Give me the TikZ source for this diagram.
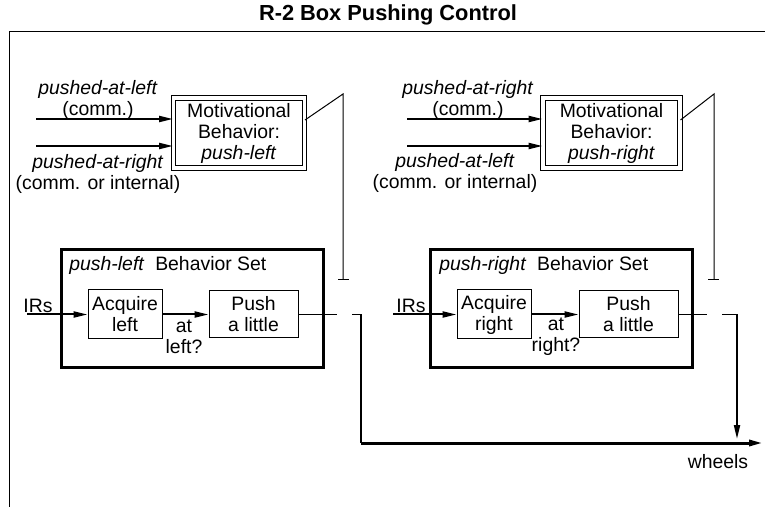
\documentclass[tikz,border=0pt]{standalone}
\usepackage{fontspec}
\setmainfont{Liberation Sans}
\usetikzlibrary{arrows.meta}

\begin{document}
\begin{tikzpicture}[x=0.5pt, y=-0.5pt,
        txt/.style={font=\fontsize{9.7}{10.5}\selectfont, align=center, inner sep=0pt},
        motbox/.style={txt, draw, double, line width=0.5pt, double distance=1.75pt, minimum height=35pt},
        setbox/.style={draw, line width=1.5pt, minimum width=131pt, minimum height=59pt},
        behbox/.style={txt, draw, line width=0.5pt},
        arr/.style={-{Triangle[length=7pt,width=3pt]}, line width=1pt}]
        \useasboundingbox (0,0) rectangle (765,507);

        % frame and title
        \node[font=\fontsize{10.9}{12}\selectfont\bfseries, inner sep=0pt] (title) at (388,15) {R-2 Box Pushing Control};
        \draw[line width=0.5pt] (9,507) -- (9,32) -- (765,32);

        % left half: push-left
        \node[motbox, minimum width=65.5pt] (motL) at (239,133) {Motivational\\Behavior:\\\textit{push-left}};
        \node[setbox] (setL) at (192,309) {};
        \node[txt, anchor=west] (setLlbl) at (69,265) {\textit{push-left}\ \ Behavior Set};
        \node[behbox, minimum width=37pt, minimum height=24.5pt] (acqL) at (125,314.5) {Acquire\\left};
        \node[behbox, minimum width=44.5pt, minimum height=23.5pt] (pushL) at (253.5,314.5) {Push\\a little};
        \node[txt] (irL) at (38,306) {IRs};
        \node[txt] (atL) at (184,337) {at\\left?};
        \node[txt] (inLalbl) at (98,100) {\textit{pushed-at-left}\\(comm.)};
        \node[txt] (inLblbl) at (98,174) {\textit{pushed-at-right}\\(comm. or internal)};

        \coordinate (inLa) at (36,119);
        \coordinate (inLb) at (36,146);
        \coordinate (irLin) at (27,314.5);
        \coordinate (swLtop) at (343,94);
        \coordinate (swLend) at (343,280);
        \coordinate (gapLa) at (337,314.5);
        \coordinate (gapLb) at (352,314.5);
        \coordinate (busL) at (361,443);

        \draw[arr] (inLa) -- (inLa -| motL.west);
        \draw[arr] (inLb) -- (inLb -| motL.west);
        \draw[line width=0.5pt] ([yshift=6.5pt]motL.east) -- (swLtop) -- (swLend);
        \draw[line width=0.5pt] ([xshift=-2.5pt]swLend) -- ([xshift=3pt]swLend);
        \draw[arr] (irLin) -- (acqL.west);
        \draw[arr] (acqL) -- (pushL);
        \draw[line width=0.5pt] (pushL.east) -- (gapLa);
        \draw[line width=0.5pt] (gapLb) -- (gapLb -| busL);
        \draw[line width=0.75pt] (gapLb -| busL) -- (busL);

        % right half: push-right
        \node[motbox, minimum width=68.5pt] (motR) at (611.5,133) {Motivational\\Behavior:\\\textit{push-right}};
        \node[setbox] (setR) at (561,309) {};
        \node[txt, anchor=west] (setRlbl) at (439,265) {\textit{push-right}\ \ Behavior Set};
        \node[behbox, minimum width=37pt, minimum height=24.5pt] (acqR) at (494,314.5) {Acquire\\right};
        \node[behbox, minimum width=49.5pt, minimum height=23.5pt] (pushR) at (628.5,314.5) {Push\\a little};
        \node[txt] (irR) at (411,306) {IRs};
        \node[txt] (atR) at (556,337) {at\\right?};
        \node[txt] (inRalbl) at (468,100) {\textit{pushed-at-right}\\(comm.)};
        \node[txt] (inRblbl) at (455,173) {\textit{pushed-at-left}\\(comm. or internal)};

        \coordinate (inRa) at (407,119);
        \coordinate (inRb) at (407,146);
        \coordinate (irRin) at (393,314.5);
        \coordinate (swRtop) at (714,94);
        \coordinate (swRend) at (714,280);
        \coordinate (gapRa) at (707,314.5);
        \coordinate (gapRb) at (722,314.5);
        \coordinate (cornR) at (737,314.5);
        \coordinate (busR) at (763,443);

        \draw[arr] (inRa) -- (inRa -| motR.west);
        \draw[arr] (inRb) -- (inRb -| motR.west);
        \draw[line width=0.5pt] ([yshift=6.5pt]motR.east) -- (swRtop) -- (swRend);
        \draw[line width=0.5pt] ([xshift=-3pt]swRend) -- ([xshift=2.5pt]swRend);
        \draw[arr] (irRin) -- (acqR.west);
        \draw[arr] (acqR) -- (pushR);
        \draw[line width=0.5pt] (pushR.east) -- (gapRa);
        \draw[line width=0.5pt] (gapRb) -- (cornR);
        \draw[arr] (cornR) -- ([yshift=2pt]cornR |- busR);

        % output to wheels
        \draw[arr, line width=1.5pt] (busL) -- (busR);
        \node[txt] (wheels) at (718,462) {wheels};
\end{tikzpicture}
\end{document}
